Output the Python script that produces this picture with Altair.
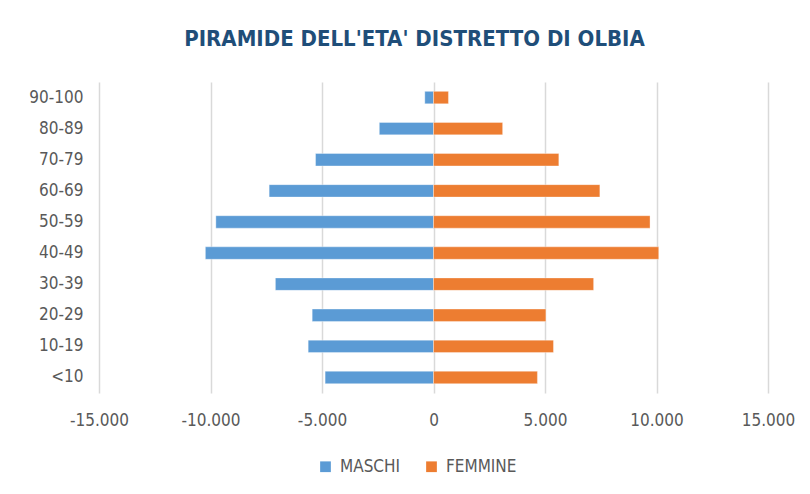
import altair as alt
import pandas as pd

ages = ["<10", "10-19", "20-29", "30-39", "40-49", "50-59", "60-69", "70-79", "80-89", "90-100"]
maschi = [-4860, -5620, -5440, -7090, -10230, -9760, -7370, -5290, -2430, -390]
femmine = [4660, 5380, 5040, 7180, 10100, 9710, 7460, 5620, 3100, 670]
tick_values = [-15000, -10000, -5000, 0, 5000, 10000, 15000]
series = ["MASCHI", "FEMMINE"]
colors = ["#5B9BD5", "#ED7D31"]

rows = []
for a, m, f in zip(ages, maschi, femmine):
    rows.append({"age": a, "gender": "MASCHI", "value": m})
    rows.append({"age": a, "gender": "FEMMINE", "value": f})
df = pd.DataFrame(rows)

font = "'Liberation Sans Narrow', 'DejaVu Sans Condensed', 'Open Sans', sans-serif"
gray = "#595959"

chart = alt.Chart(df).mark_bar(stroke="white", strokeWidth=1, strokeOpacity=0.35).encode(
    x=alt.X(
        "value:Q",
        stack=None,
        scale=alt.Scale(domain=[-15000, 15000], nice=False),
        axis=alt.Axis(
            values=tick_values,
            labelExpr="replace(replace(format(datum.value, ','), ',', '.'), '\u2212', '-')",
            title=None, grid=True, gridColor="#D9D9D9", gridWidth=1.5,
            domain=False, ticks=False, labelColor=gray, labelFontSize=17,
            labelPadding=19, labelFont=font, labelFlush=False,
        ),
    ),
    y=alt.Y(
        "age:N",
        sort=ages[::-1],
        scale=alt.Scale(paddingInner=0.6, paddingOuter=0.3),
        axis=alt.Axis(title=None, domain=False, ticks=False, grid=False,
                      labelColor=gray, labelFontSize=17, labelPadding=16, labelFont=font),
    ),
    color=alt.Color(
        "gender:N",
        scale=alt.Scale(domain=series, range=colors),
        legend=alt.Legend(
            title=None, orient="none", direction="horizontal",
            legendX=218, legendY=376, symbolType="square", symbolSize=115,
            symbolStrokeWidth=0, labelFontSize=17, labelColor=gray, labelFont=font,
            columnPadding=22, labelOffset=6,
        ),
    ),
).properties(
    width=669,
    height=311,
    title=alt.Title(
        "PIRAMIDE DELL'ETA' DISTRETTO DI OLBIA",
        font=font, fontSize=22, fontWeight="bold", color="#1F4E79",
        anchor="middle", dx=-19, offset=31,
    ),
    padding={"left": 91, "top": 74, "right": 34, "bottom": 90},
    autosize=alt.AutoSizeParams(type="none"),
).configure_view(stroke=None)

chart.save("out.html", embed_options={"renderer": "svg", "actions": False})
